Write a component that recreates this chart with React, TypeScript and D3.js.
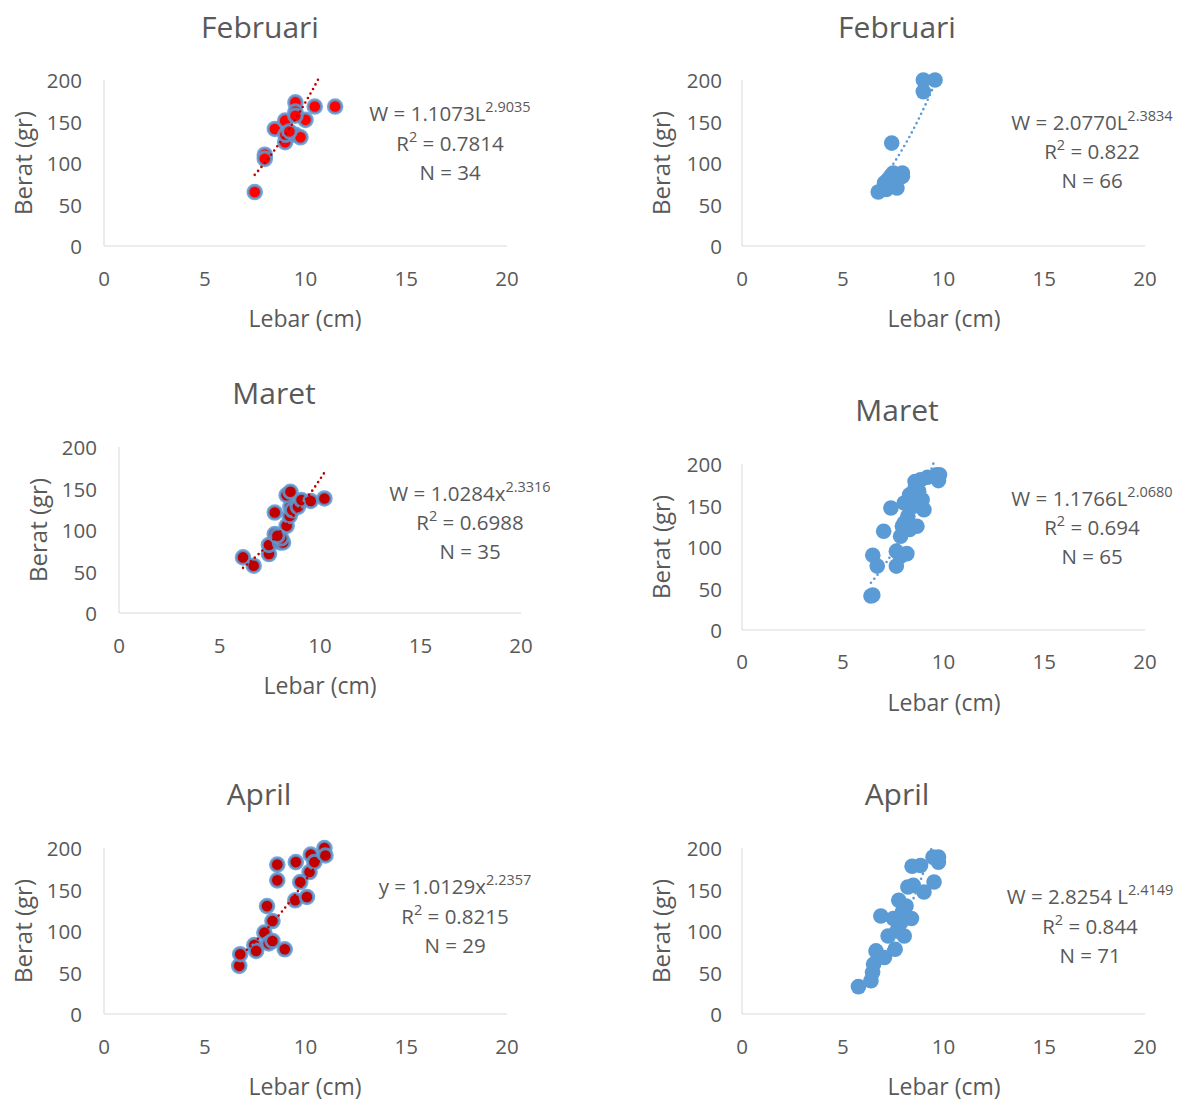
import React from 'react';
import * as d3 from 'd3';

// ---- data: [lebar (cm), berat (gr)] ----
const febA: [number, number][] = [
  [7.48, 65], [7.98, 110], [7.98, 105], [8.48, 141], [8.99, 151], [8.99, 125],
  [9.0, 134], [9.5, 173], [9.5, 162], [9.5, 134], [9.75, 131], [10.0, 152],
  [10.46, 168], [11.47, 168], [9.5, 157], [9.2, 138],
];
const febB: [number, number][] = [
  [9.0, 200], [9.58, 200], [9.0, 186], [7.43, 124], [6.76, 65], [7.07, 76],
  [7.25, 80], [7.51, 88], [7.96, 88], [7.96, 84], [7.69, 70], [7.16, 68],
  [7.35, 72], [7.6, 78], [7.8, 82], [7.4, 85],
];
const marA: [number, number][] = [
  [6.17, 67], [6.7, 57], [7.46, 71], [7.46, 82], [7.75, 95], [7.75, 121],
  [8.01, 85], [8.16, 85], [8.34, 105], [8.49, 117], [8.53, 128], [8.34, 142],
  [8.53, 146], [8.62, 124], [8.9, 128], [9.08, 136], [9.54, 135], [10.22, 138],
  [8.07, 90], [7.88, 93],
];
const marB: [number, number][] = [
  [6.4, 41], [6.49, 42], [6.49, 90], [6.71, 77], [7.03, 119], [7.39, 147],
  [7.66, 77], [7.66, 95], [7.87, 89], [8.18, 92], [7.87, 113], [7.96, 125],
  [8.32, 121], [8.68, 125], [8.23, 137], [8.05, 153], [8.32, 163], [8.59, 171],
  [8.59, 179], [8.94, 157], [9.03, 145], [8.86, 181], [9.21, 184], [9.66, 187],
  [9.8, 187], [9.75, 180], [8.77, 167], [8.5, 149], [8.05, 129],
];
const aprA: [number, number][] = [
  [6.71, 58], [6.76, 72], [7.46, 83], [7.55, 76], [7.96, 98], [8.09, 130],
  [8.18, 85], [8.36, 88], [8.36, 112], [8.6, 180], [8.6, 161], [8.97, 78],
  [9.49, 137], [9.52, 183], [9.74, 159], [10.07, 141], [10.2, 171], [10.26, 192],
  [10.44, 183], [10.94, 200], [10.99, 191],
];
const aprB: [number, number][] = [
  [5.78, 33], [6.4, 40], [6.48, 50], [6.53, 60], [6.65, 76], [7.07, 68],
  [6.89, 118], [7.25, 94], [7.6, 78], [7.69, 100], [8.05, 94], [7.78, 137],
  [7.51, 115], [7.96, 123], [8.41, 115], [8.23, 153], [8.5, 155], [9.03, 147],
  [8.44, 178], [8.86, 179], [9.53, 159], [9.48, 189], [9.75, 189], [9.75, 183],
  [7.87, 110], [8.14, 130],
];

// two points on each dotted power trendline
const trendFebA: [number, number][] = [[7.49, 86], [10.59, 199]];
const trendFebB: [number, number][] = [[7.59, 102], [9.25, 178]];
const trendMarA: [number, number][] = [[6.15, 54], [10.08, 164]];
const trendMarB: [number, number][] = [[6.44, 58], [9.49, 200]];
const trendAprA: [number, number][] = [[6.67, 68], [11.0, 197]];
const trendAprB: [number, number][] = [[5.8, 35], [9.41, 200]];

const xTicks = [0, 5, 10, 15, 20];
const yTicks = [0, 50, 100, 150, 200];
const titles = ['Februari', 'Februari', 'Maret', 'Maret', 'April', 'April'];
const eqMain = ['W = 1.1073L', 'W = 2.0770L', 'W = 1.0284x', 'W = 1.1766L', 'y = 1.0129x', 'W = 2.8254 L'];
const eqPow = ['2.9035', '2.3834', '2.3316', '2.0680', '2.2357', '2.4149'];
const r2 = ['0.7814', '0.822', '0.6988', '0.694', '0.8215', '0.844'];
const nVals = ['34', '66', '35', '65', '29', '71'];

const GREY = '#595959';
const BLUE = '#5b9bd5';
const FONT = '"Open Sans", "Noto Sans", sans-serif';

// layout per panel
const layouts = [
  { l: 104, r: 507, t: 80, b: 246, title: [260, 26], ytx: 82, xty: 278, xl: [305, 318], yl: [22, 163], eq: [450, 113, 143, 172] },
  { l: 742, r: 1145, t: 80, b: 246, title: [897, 26], ytx: 722, xty: 278, xl: [944, 318], yl: [660, 163], eq: [1092, 122, 151, 180] },
  { l: 119, r: 521, t: 447, b: 613, title: [274, 392], ytx: 97, xty: 645, xl: [320, 685], yl: [37, 530], eq: [470, 493, 522, 551] },
  { l: 742, r: 1145, t: 464, b: 630, title: [897, 409], ytx: 722, xty: 661, xl: [944, 702], yl: [660, 547], eq: [1092, 498, 527, 556] },
  { l: 104, r: 507, t: 848, b: 1014, title: [259, 793], ytx: 82, xty: 1046, xl: [305, 1086], yl: [22, 931], eq: [455, 886, 916, 945] },
  { l: 742, r: 1145, t: 848, b: 1014, title: [897, 793], ytx: 722, xty: 1046, xl: [944, 1086], yl: [660, 931], eq: [1090, 896, 926, 955] },
];

const series = [febA, febB, marA, marB, aprA, aprB];
const trends = [trendFebA, trendFebB, trendMarA, trendMarB, trendAprA, trendAprB];
const markerStyle = [
  { fill: '#ff0000', trend: '#c00000' },
  { fill: BLUE, trend: BLUE },
  { fill: '#c00000', trend: '#c00000' },
  { fill: BLUE, trend: BLUE },
  { fill: '#c00000', trend: '#c00000' },
  { fill: BLUE, trend: BLUE },
];

// power curve W = a * L^b through the two read points
function powerThrough(p: [number, number][]) {
  const b = Math.log(p[1][1] / p[0][1]) / Math.log(p[1][0] / p[0][0]);
  const a = p[0][1] / Math.pow(p[0][0], b);
  return { a, b };
}

function Panel({ i }: { i: number }) {
  const L = layouts[i];
  const data = series[i];
  const st = markerStyle[i];
  const x = d3.scaleLinear().domain([0, 20]).range([L.l, L.r]);
  const y = d3.scaleLinear().domain([0, 200]).range([L.b, L.t]);

  const { a, b } = powerThrough(trends[i]);
  const [x0, x1] = d3.extent(data, d => d[0]) as [number, number];
  const xs = d3.range(0, 81).map(k => x0 + (x1 - x0) * k / 80);
  const line = d3.line<number>().x(v => x(v)).y(v => y(a * Math.pow(v, b)));
  const clipId = `clip${i}`;
  const isRed = st.fill !== BLUE;

  return (
    <g>
      <clipPath id={clipId}>
        <rect x={L.l} y={L.t - 2} width={L.r - L.l} height={L.b - L.t + 2} />
      </clipPath>
      <text x={L.title[0]} y={L.title[1]} textAnchor="middle" dominantBaseline="central" fontSize={30} fill={GREY}>{titles[i]}</text>
      <line x1={L.l} x2={L.l} y1={L.t} y2={L.b} stroke="#d9d9d9" strokeWidth={1} />
      <line x1={L.l} x2={L.r} y1={L.b} y2={L.b} stroke="#d9d9d9" strokeWidth={1} />
      {yTicks.map(t => (
        <text key={'y' + t} x={L.ytx} y={y(t)} textAnchor="end" dominantBaseline="central" fontSize={20.5} fill={GREY}>{t}</text>
      ))}
      {xTicks.map(t => (
        <text key={'x' + t} x={x(t)} y={L.xty} textAnchor="middle" dominantBaseline="central" fontSize={20.5} fill={GREY}>{t}</text>
      ))}
      <text x={L.xl[0]} y={L.xl[1]} textAnchor="middle" dominantBaseline="central" fontSize={23} fill={GREY}>Lebar (cm)</text>
      <text transform={`translate(${L.yl[0]},${L.yl[1]}) rotate(-90)`} textAnchor="middle" dominantBaseline="central" fontSize={24} fill={GREY}>Berat (gr)</text>
      <g>
        {data.map((d, k) => (
          <circle key={k} cx={x(d[0])} cy={y(d[1])} r={isRed ? 6.8 : 7.8} fill={st.fill}
            stroke={isRed ? BLUE : 'none'} strokeOpacity={0.85} strokeWidth={isRed ? 3 : 0} />
        ))}
      </g>
      <path d={line(xs) || ''} fill="none" stroke={st.trend} strokeWidth={2.6} strokeDasharray="0 5.2" strokeLinecap="round" clipPath={`url(#${clipId})`} />
      <text x={L.eq[0]} y={L.eq[1]} textAnchor="middle" dominantBaseline="central" fontSize={20.5} fill={GREY}>
        {eqMain[i]}<tspan dy={-7} fontSize={14.5}>{eqPow[i]}</tspan>
      </text>
      <text x={L.eq[0]} y={L.eq[2]} textAnchor="middle" dominantBaseline="central" fontSize={20.5} fill={GREY}>
        R<tspan dy={-7} fontSize={14.5}>2</tspan><tspan dy={7}>{' = ' + r2[i]}</tspan>
      </text>
      <text x={L.eq[0]} y={L.eq[3]} textAnchor="middle" dominantBaseline="central" fontSize={20.5} fill={GREY}>{'N = ' + nVals[i]}</text>
    </g>
  );
}

export default function App() {
  return (
    <div style={{ position: 'absolute', left: 0, top: 0 }}>
      <svg width={1184} height={1102} style={{ display: 'block', background: '#fff', fontFamily: FONT }}>
        {layouts.map((_, i) => <Panel key={i} i={i} />)}
      </svg>
    </div>
  );
}
